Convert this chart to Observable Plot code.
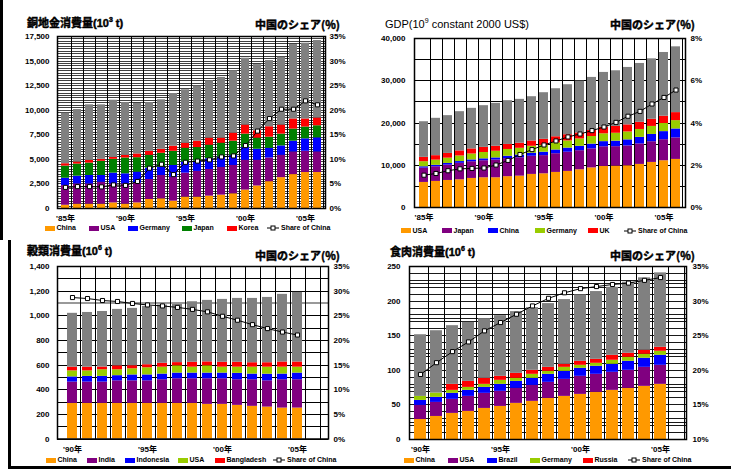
<!DOCTYPE html>
<html><head><meta charset="utf-8">
<script src="https://cdn.jsdelivr.net/npm/d3@7"></script>
<script src="https://cdn.jsdelivr.net/npm/@observablehq/plot@0.6"></script>
<style>
body{margin:0;background:#fff;}
#root{position:relative;width:731px;height:470px;overflow:hidden;background:#fff;}
.pl{position:absolute;}
.title{position:absolute;font-size:11px;font-weight:bold;white-space:nowrap;line-height:12px;font-family:"Liberation Sans","Noto Sans CJK JP",sans-serif;}
.title sup{font-size:7px;line-height:0;vertical-align:5px;}
.jp{font-family:"Noto Sans CJK JP",sans-serif;}
.bold{-webkit-text-stroke:0.45px #000;}
.lt{position:absolute;font-size:7px;font-weight:bold;white-space:nowrap;line-height:8px;font-family:"Liberation Sans",sans-serif;}
.sw{position:absolute;width:10px;height:5px;}
.bd{position:absolute;background:#000;}
</style></head><body><div id="root"></div>
<script>
// ===== Panel 1: refined copper consumption (10^3 t), 1985-2006 =====
const cuYears = [1985,1986,1987,1988,1989,1990,1991,1992,1993,1994,1995,1996,1997,1998,1999,2000,2001,2002,2003,2004,2005,2006];
const cuNames = ["China","USA","Germany","Japan","Korea"];
const cuChina   = [330,440,440,440,570,440,570,920,985,745,1160,1160,1260,1360,1500,1875,2290,2730,3140,3450,3660,3660];
const cuUSA     = [2000,2060,2060,2230,1930,2060,2000,2030,2375,2440,2440,2610,2710,2820,2880,3025,2610,2410,2270,2300,2160,2090];
const cuGermany = [750,790,860,690,1100,1030,1130,1160,850,1195,1130,1060,1100,1060,1030,1300,1130,990,960,1100,1270,1440];
const cuJapan   = [1235,1230,1260,1440,1400,1610,1470,1300,1410,1440,1400,1370,1370,1400,1440,1370,1130,1130,1200,1230,1200,1230];
const cuKorea   = [240,210,280,200,200,270,380,410,410,520,510,650,720,520,820,920,750,1060,920,1030,820,790];
const cuWorld   = [9700,10070,10550,10550,11020,10780,10680,10780,11060,11700,12080,12460,13000,13340,14020,15290,14640,15050,15390,16680,16820,17090];
const cuShare   = [4.3,4.45,4.45,4.4,4.8,4.7,5.5,8.2,9.0,6.9,9.4,9.65,9.9,10.5,10.7,12.8,15.75,18.3,20.2,20.2,21.9,21.1];
const cuLeftTicks  = [0,2500,5000,7500,10000,12500,15000,17500];
const cuRightTicks = [0,5,10,15,20,25,30,35];

// ===== Panel 2: GDP (10^9 constant 2000 US$), 1985-2006 =====
const gdpYears = cuYears;
const gdpNames = ["USA","Japan","China","Germany","UK"];
const gdpUSA     = [5930,6170,6400,6560,6880,7040,7040,7300,7420,7830,7980,8300,8540,8930,9380,9720,9800,9880,10200,10670,11070,11380];
const gdpJapan   = [3400,3470,3640,3900,3950,4030,4200,4270,4350,4300,4300,4430,4550,4510,4500,4650,4600,4700,4850,4900,4980,5100];
const gdpChina   = [310,340,380,415,435,450,495,565,645,720,805,885,970,1040,1120,1220,1300,1430,1550,1720,1910,2110];
const gdpGermany = [1200,1230,1260,1320,1400,1500,1580,1600,1600,1640,1660,1680,1700,1750,1800,1850,1870,1870,1870,1900,1920,1970];
const gdpUK      = [1030,1060,1120,1200,1200,1210,1180,1190,1200,1250,1400,1450,1470,1420,1420,1520,1620,1680,1700,1700,1730,1900];
const gdpWorld   = [20300,21110,21740,22680,23470,24100,24650,25280,25600,26220,27170,28110,29060,29920,30790,31970,32360,33150,34090,35190,36690,38030];
const gdpShare   = [1.53,1.61,1.74,1.83,1.85,1.87,2.01,2.23,2.51,2.74,2.96,3.15,3.34,3.48,3.64,3.81,4.03,4.32,4.55,4.90,5.21,5.56];
const gdpLeftTicks  = [0,10000,20000,30000,40000];
const gdpRightTicks = [0,2,4,6,8];

// ===== Panel 3: grain consumption (10^6 t), 1990-2005 =====
const grSlots = [1990,1991,1992,1993,1994,1995,1996,1997,1998,1999,2000,2001,2002,2003,2004,2005,2006];
const grYears = [1990,1991,1992,1993,1994,1995,1996,1997,1998,1999,2000,2001,2002,2003,2004,2005];
const grNames = ["China","India","Indonesia","USA","Bangladesh"];
const grChina      = [289,289,289,289,289,289,289,289,289,281,281,273,265,259,251,251];
const grIndia      = [173,173,173,183,183,183,192,200,200,208,208,208,216,213,230,230];
const grIndonesia  = [42,46,46,42,48,48,46,46,46,46,46,52,46,54,46,54];
const grUSA        = [49,45,54,48,50,58,56,59,48,59,48,50,56,57,56,48];
const grBangladesh = [30,30,22,32,25,25,32,26,40,32,40,40,36,36,42,42];
const grWorld      = [1020,1027,1035,1052,1060,1076,1087,1092,1114,1125,1133,1141,1141,1149,1174,1190];
const grShare      = [28.7,28.5,28.1,27.9,27.5,27.2,27.0,26.7,26.3,25.8,24.9,24.1,23.2,22.4,21.7,21.1];
const grLeftTicks  = [0,200,400,600,800,1000,1200,1400];
const grRightTicks = [0,5,10,15,20,25,30,35];

// ===== Panel 4: meat consumption (10^6 t), 1990-2005 =====
const mtSlots = grSlots;
const mtYears = grYears;
const mtNames = ["China","USA","Brazil","Germany","Russia"];
const mtChina   = [29,33.3,37.7,40.6,44.9,47.8,52.2,55.1,59.4,62.3,65.2,68.1,71,73.9,76.8,79.7];
const mtUSA     = [20.3,20.3,20.3,21.7,21.8,21.8,21.7,23.1,23.2,24.6,26.1,26.1,26.1,26.1,27.5,27.5];
const mtBrazil  = [7.2,7.3,8.7,8.7,8.6,10.1,10.1,10.2,11.6,11.6,11.6,11.6,11.6,13,13.1,14.5];
const mtGermany = [5.8,6.2,4.3,4.3,4.4,5.8,4.4,5.8,4.3,5.8,4.3,4.3,5.8,5.8,5.8,5.8];
const mtRussia  = [0,0,8.7,8.7,8.7,5.8,7.2,5.8,5.8,4.4,5.8,5.8,7.2,5.8,5.8,5.8];
const mtWorld   = [151.4,157.2,164.5,169.3,174.6,179,184.8,190.6,196.4,202.2,209,213.8,220,227.3,233.6,240.8];
const mtShare   = [19.4,21.1,22.7,24.1,25.7,26.9,28.1,29.3,30.4,31.2,31.8,32.1,32.4,32.6,33.0,33.4];
const mtLeftTicks  = [0,50,100,150,200,250];
const mtRightTicks = [10,15,20,25,30,35];

const shareLabel = "Share of China";
const ORANGE="#FF9900", PURPLE="#800080", BLUE="#0000FF", GREEN="#008000", RED="#FF0000", YG="#99CC00", GREY="#808080";

const root = document.getElementById("root");

function yearLabel(y){ return "'" + String(y).slice(2) + "年"; }

function makePanel(cfg){
  const b = cfg.box;
  const rows = [];
  cfg.years.forEach((yr,i)=>{
    let sum = 0;
    cfg.series.forEach(s=>{ const v = s.values[i]; if (v>0){ rows.push({x:yr,key:s.name,v}); sum += v; } });
    rows.push({x:yr,key:"Other",v:cfg.total[i]-sum});
  });
  const pts = cfg.years.map((yr,i)=>({x:yr, y:cfg.toY(cfg.share[i])}));
  const step = (b.w - b.ml - b.mr)/cfg.slots.length;
  const marks = [
    Plot.ruleY(cfg.grid, {stroke:"#000", strokeWidth:1, strokeOpacity:cfg.gridOpacity, shapeRendering:"crispEdges"}),
  ];
  if (cfg.greyGrid) marks.push(Plot.ruleY(cfg.greyGrid, {stroke:"#999", strokeWidth:2, shapeRendering:"crispEdges"}));
  marks.push(
    Plot.ruleX(cfg.slots, {x:d=>d, dx:step/2, stroke:"#000", strokeWidth:1, shapeRendering:"crispEdges"}),
    Plot.barY(rows, {x:"x", y:"v", fill:"key", inset:0}),
    Plot.axisY(cfg.leftTicks, {anchor:"left", tickSize:0, tickPadding:cfg.lp, tickFormat:d3.format(","), label:null}),
    Plot.axisY(cfg.rightTicks.map(cfg.toY), {anchor:"right", tickSize:0, tickPadding:cfg.rp, tickFormat:v=>Math.round(cfg.fromY(v))+"%", label:null}),
    Plot.axisX({ticks:cfg.xTicks, tickSize:0, tickPadding:cfg.xp, tickFormat:yearLabel, label:null}),
    Plot.frame({stroke:"#000", strokeWidth:1.5}),
    Plot.line(pts, {x:"x", y:"y", stroke:"#000", strokeWidth:1}),
    Plot.dot(pts, {x:"x", y:"y", symbol:"square", r:2.3, fill:"#fff", stroke:"#000", strokeWidth:1})
  );
  const svg = Plot.plot({
    width:b.w, height:b.h, marginLeft:b.ml, marginRight:b.mr, marginTop:b.mt, marginBottom:b.mb,
    style:{fontFamily:"'Liberation Sans','Noto Sans CJK JP',sans-serif", fontSize:"8px", fontWeight:"bold", background:"transparent", overflow:"visible"},
    x:{type:"band", domain:cfg.slots, paddingInner:cfg.pad, paddingOuter:cfg.pad/2, align:0.5},
    y:{domain:[0,cfg.yMax]},
    color:{domain:[...cfg.series.map(s=>s.name),"Other"], range:[...cfg.colors, GREY]},
    marks
  });
  svg.classList.add("pl");
  svg.style.left = b.left+"px"; svg.style.top = b.top+"px";
  root.appendChild(svg);

  // titles
  const t1 = document.createElement("div");
  t1.className = "title" + (cfg.titleWeight ? "" : " bold"); t1.innerHTML = cfg.title;
  t1.style.left = cfg.titlePos[0]+"px"; t1.style.top = (cfg.titlePos[1]-6)+"px";
  if (cfg.titleWeight) t1.style.fontWeight = cfg.titleWeight;
  root.appendChild(t1);
  const t2 = document.createElement("div");
  t2.className = "title jp bold"; t2.textContent = "中国のシェア(%)";
  t2.style.right = (731-cfg.rtitlePos[0])+"px"; t2.style.top = (cfg.rtitlePos[1]-6)+"px";
  root.appendChild(t2);

  // legend
  const ly = cfg.legend.y;
  cfg.series.forEach((s,i)=>{
    const x = cfg.legend.xs[i];
    const sw = document.createElement("div");
    sw.className="sw"; sw.style.left=x+"px"; sw.style.top=(ly-2.5)+"px"; sw.style.background=cfg.colors[i];
    root.appendChild(sw);
    const tx = document.createElement("div");
    tx.className="lt"; tx.textContent=s.name; tx.style.left=(x+11.5)+"px"; tx.style.top=(ly-4)+"px";
    root.appendChild(tx);
  });
  const sx = cfg.legend.sx;
  const ns="http://www.w3.org/2000/svg";
  const sym = document.createElementNS(ns,"svg");
  sym.setAttribute("width","12"); sym.setAttribute("height","6");
  sym.style.position="absolute"; sym.style.left=sx+"px"; sym.style.top=(ly-3)+"px";
  sym.innerHTML = '<line x1="0" y1="3" x2="12" y2="3" stroke="#000" stroke-width="1"/><rect x="4" y="1" width="4" height="4" fill="#fff" stroke="#000" stroke-width="1"/>';
  root.appendChild(sym);
  const st = document.createElement("div");
  st.className="lt"; st.textContent=shareLabel; st.style.left=(sx+14)+"px"; st.style.top=(ly-4)+"px";
  root.appendChild(st);
}

makePanel({
  slots:cuYears, years:cuYears,
  series:[{name:cuNames[0],values:cuChina},{name:cuNames[1],values:cuUSA},{name:cuNames[2],values:cuGermany},{name:cuNames[3],values:cuJapan},{name:cuNames[4],values:cuKorea}],
  colors:[ORANGE,PURPLE,BLUE,GREEN,RED],
  total:cuWorld, share:cuShare, toY:s=>s*500, fromY:v=>v/500,
  yMax:17500, leftTicks:cuLeftTicks, rightTicks:cuRightTicks,
  grid:d3.range(0,17501,250), gridOpacity:0.75, xTicks:[1985,1990,1995,2000,2005],
  box:{left:0,top:0,w:365,h:240,ml:57,mr:40,mt:36,mb:32}, pad:0.32, lp:8, rp:4, xp:7,
  title:'銅地金消費量(10<sup>3</sup> t)', titlePos:[27,23], rtitlePos:[340,24],
  legend:{y:228, xs:[45,89,128,182,227], sx:267}
});
makePanel({
  slots:gdpYears, years:gdpYears,
  series:[{name:gdpNames[0],values:gdpUSA},{name:gdpNames[1],values:gdpJapan},{name:gdpNames[2],values:gdpChina},{name:gdpNames[3],values:gdpGermany},{name:gdpNames[4],values:gdpUK}],
  colors:[ORANGE,PURPLE,BLUE,YG,RED],
  total:gdpWorld, share:gdpShare, toY:s=>s*5000, fromY:v=>v/5000,
  yMax:40000, leftTicks:gdpLeftTicks, rightTicks:gdpRightTicks,
  grid:d3.range(0,40001,5000), gridOpacity:1, xTicks:[1985,1990,1995,2000,2005],
  box:{left:365,top:0,w:366,h:240,ml:49,mr:46,mt:38,mb:33}, pad:0.25, lp:9, rp:5, xp:7,
  title:'GDP(10<sup>9</sup> constant 2000 US$)', titleWeight:"normal", titlePos:[385,24], rtitlePos:[695,24],
  legend:{y:230.5, xs:[401,442,488,535,588], sx:624}
});
makePanel({
  slots:grSlots, years:grYears,
  series:[{name:grNames[0],values:grChina},{name:grNames[1],values:grIndia},{name:grNames[2],values:grIndonesia},{name:grNames[3],values:grUSA},{name:grNames[4],values:grBangladesh}],
  colors:[ORANGE,PURPLE,BLUE,YG,RED],
  total:grWorld, share:grShare, toY:s=>s*40, fromY:v=>v/40,
  yMax:1400, leftTicks:grLeftTicks, rightTicks:grRightTicks,
  grid:d3.range(0,1401,100), gridOpacity:1, greyGrid:[1100], xTicks:[1990,1995,2000,2005],
  box:{left:0,top:240,w:365,h:230,ml:57,mr:37,mt:26,mb:31.5}, pad:0.33, lp:8, rp:5, xp:7,
  title:'穀類消費量(10<sup>6</sup> t)', titlePos:[27,251], rtitlePos:[340,255],
  legend:{y:460, xs:[46,87,125,178,215], sx:273}
});
makePanel({
  slots:mtSlots, years:mtYears,
  series:[{name:mtNames[0],values:mtChina},{name:mtNames[1],values:mtUSA},{name:mtNames[2],values:mtBrazil},{name:mtNames[3],values:mtGermany},{name:mtNames[4],values:mtRussia}],
  colors:[ORANGE,PURPLE,BLUE,YG,RED],
  total:mtWorld, share:mtShare, toY:s=>(s-10)*10, fromY:v=>v/10+10,
  yMax:250, leftTicks:mtLeftTicks, rightTicks:mtRightTicks,
  grid:Array.from(new Set([...d3.range(0,251,10),...d3.range(0,251,25)])), gridOpacity:0.9, xTicks:[1990,1995,2000,2005],
  box:{left:365,top:240,w:366,h:230,ml:44,mr:45,mt:26,mb:31}, pad:0.28, lp:9, rp:6, xp:7,
  title:'食肉消費量(10<sup>6</sup> t)', titlePos:[390,252], rtitlePos:[695,255],
  legend:{y:460, xs:[404,448,487,530,583], sx:628}
});

// outer border pieces
[[0,0,3,240],[8,240,3,229],[8,466,723,3]].forEach(([l,t,w,h])=>{
  const d=document.createElement("div"); d.className="bd";
  d.style.left=l+"px"; d.style.top=t+"px"; d.style.width=w+"px"; d.style.height=h+"px";
  root.appendChild(d);
});
</script></body></html>
